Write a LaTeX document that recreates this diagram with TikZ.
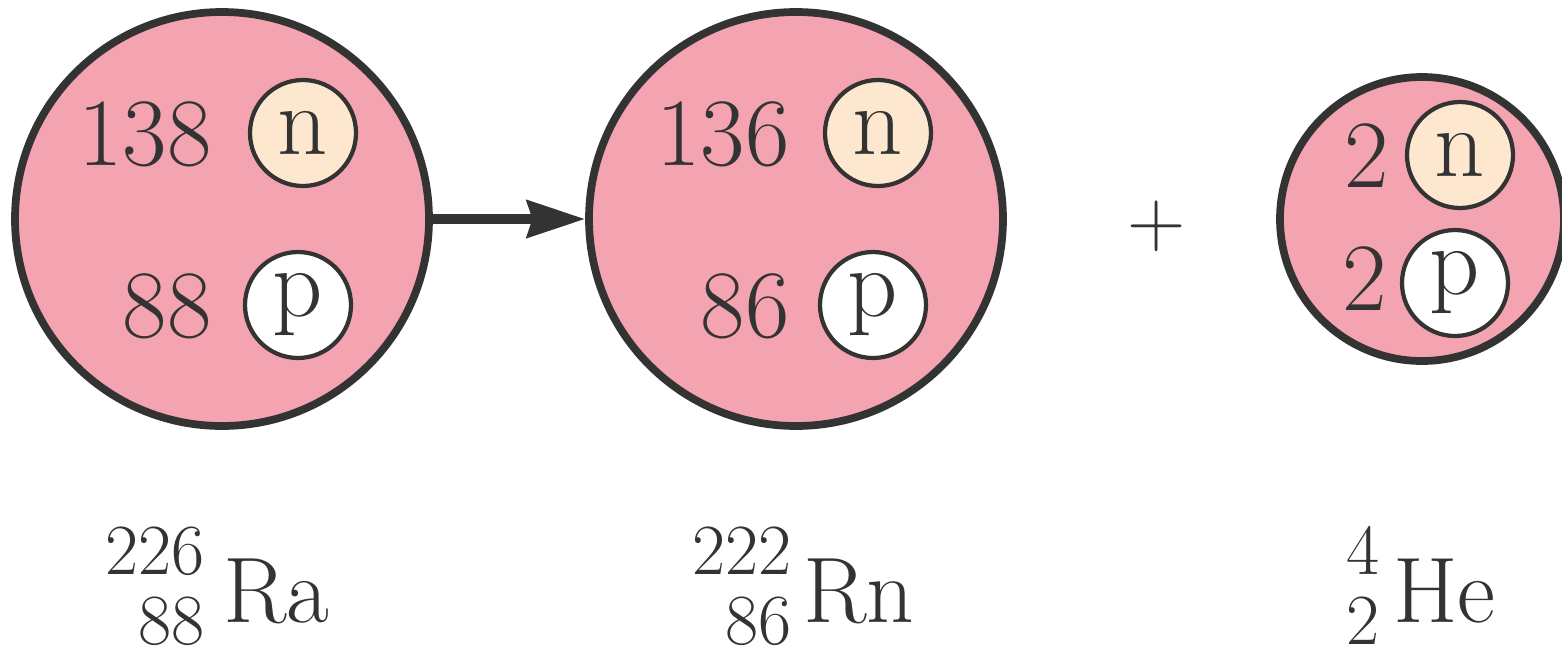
\documentclass[tikz,border=0pt]{standalone}
\usepackage{fontspec}
\usetikzlibrary{arrows.meta}
\definecolor{nucpink}{HTML}{F4A3B0}
\definecolor{neutfill}{HTML}{FDE8CF}
\definecolor{ink}{HTML}{333333}
\tikzset{
  nucleus/.style={circle, draw=ink, fill=nucpink, line width=4.4pt, inner sep=0pt},
  neutron/.style={circle, draw=ink, fill=neutfill, line width=2.4pt, inner sep=0pt, minimum size=106*0.02cm, text=ink, font=\fontsize{56}{60}\selectfont},
  proton/.style={circle, draw=ink, fill=white, line width=2.4pt, inner sep=0pt, minimum size=106*0.02cm, text=ink, font=\fontsize{56}{60}\selectfont},
  count/.style={anchor=base east, inner sep=0pt, text=ink, font=\fontsize{55}{60}\selectfont},
  nuclabel/.style={inner sep=0pt, text=ink, font=\fontsize{41}{44}\selectfont},
  elem/.style={anchor=base west, inner sep=0pt, text=ink, font=\fontsize{53}{60}\selectfont},
  decay/.style={draw=ink, line width=5.5pt, -{Stealth[length=33pt, width=21pt, inset=3pt]}}
}
\begin{document}
\begin{tikzpicture}[x=0.02cm, y=-0.02cm]
\useasboundingbox (0,0) rectangle (1562,657);
% nuclei
\node[nucleus, minimum size=414*0.02cm] (ra) at (222,219) {};
\node[nucleus, minimum size=414*0.02cm] (rn) at (796,219) {};
\node[nucleus, minimum size=284*0.02cm] (he) at (1422,219) {};
% Ra contents
\node[neutron] (ran) at (303,133) {n};
\node[proton] (rap) at (298,305) {p};
\node[count] (ranc) at (212,165) {138};
\node[count] (rapc) at (212,337) {88};
% Rn contents
\node[neutron] (rnn) at (878,133) {n};
\node[proton] (rnp) at (873,305) {p};
\node[count] (rnnc) at (790,165) {136};
\node[count] (rnpc) at (790,337) {86};
% He contents
\node[neutron] (hen) at (1460,155) {n};
\node[proton] (hep) at (1455,283) {p};
\node[count] (henc) at (1389,187) {2};
\node[count] (hepc) at (1387,310) {2};
% arrow and plus
\draw[decay] (ra.east) -- (rn.west);
\node[inner sep=0pt, text=ink, font=\fontsize{46}{50}\selectfont] (plus) at (1157,226) {+};
% labels
\node[nuclabel, anchor=base east] (raA) at (205,574) {226};
\node[nuclabel, anchor=base east] (raZ) at (205,644) {88};
\node[elem] (rasym) at (223,622) {Ra};
\node[nuclabel, anchor=base east] (rnA) at (792,574) {222};
\node[nuclabel, anchor=base east] (rnZ) at (792,644) {86};
\node[elem] (rnsym) at (803,622) {Rn};
\node[nuclabel, anchor=base east] (heA) at (1380,574) {4};
\node[nuclabel, anchor=base east] (heZ) at (1380,644) {2};
\node[elem] (hesym) at (1393,622) {He};
\end{tikzpicture}
\end{document}
